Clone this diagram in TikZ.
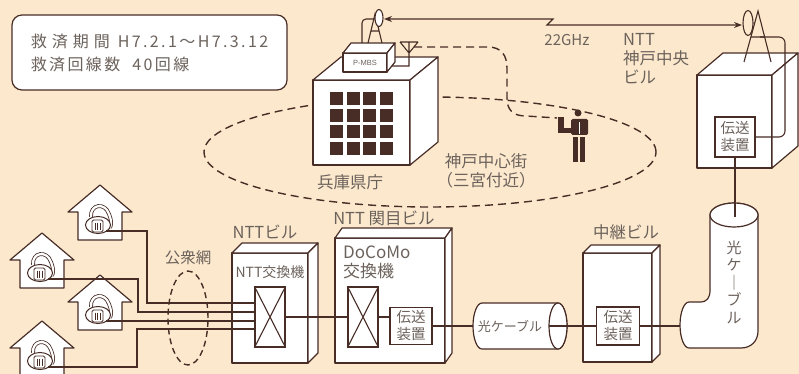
\documentclass[tikz,border=0pt]{standalone}
\usepackage{fontspec}
\setmainfont{Noto Sans CJK JP}
\newfontfamily\wideset[LetterSpace=15]{Noto Sans CJK JP}
\newfontfamily\tagfont{Liberation Sans}
\usetikzlibrary{arrows.meta}
\definecolor{paper}{RGB}{252,233,205}
\definecolor{ink}{RGB}{72,44,38}
\definecolor{txt}{RGB}{108,98,92}
\tikzset{
  face/.style={draw=ink,line width=1.2pt,fill=white,line join=round},
  wire/.style={draw=ink,line width=1.1pt},
  dashline/.style={draw=ink,line width=1.4pt,dash pattern=on 8pt off 5pt},
  lbl/.style={text=txt,inner sep=0pt,font=\fontsize{16.5}{19}\selectfont},
  swbox/.style={draw=ink,line width=1.1pt,fill=white,minimum width=30pt,minimum height=60pt,inner sep=0pt},
  txbox/.style={draw=ink,line width=1.1pt,fill=white,minimum width=42pt,minimum height=37pt,inner sep=0pt,align=center,text=txt,font=\fontsize{14.5}{17}\selectfont},
  infobox/.style={draw=ink,line width=1.2pt,fill=white,rounded corners=10pt,minimum width=275pt,minimum height=75pt,align=left,text=txt,font=\wideset\fontsize{16}{23}\selectfont},
  % oblique box: front face at the origin, width, height, depth x, depth y
  pics/cuboid/.style n args={4}{code={
    \path[face] (0,0) rectangle (#1,#2);
    \path[face] (0,0) -- (#3,-#4) -- ({#1+#3},-#4) -- (#1,0) -- cycle;
    \path[face] (#1,0) -- ({#1+#3},-#4) -- ({#1+#3},{#2-#4}) -- (#1,#2) -- cycle;
  }},
  % house with a telephone, origin at the roof apex
  pics/house/.style={code={
    \path[face] (-32,27) -- (0,0) -- (32,27) -- (22,27) -- (22,55) -- (-22,55) -- (-22,27) -- cycle;
    \draw[ink,line width=0.8pt,double=white,double distance=2.2pt] (-9,32) .. controls (-10,19) and (5,17) .. (9,29) .. controls (11,34) and (12,38) .. (10,43);
    \path[draw=ink,line width=1pt,fill=white] (-2,40) ellipse[x radius=12.5pt,y radius=8.5pt];
    \path[draw=ink,line width=0.9pt,rounded corners=1.5pt] (-8,35) rectangle (3,47);
    \draw[ink,line width=0.8pt] (-5,37.5) -- (-5,44.5) (-2.5,37.5) -- (-2.5,44.5) (0,37.5) -- (0,44.5);
    \coordinate (-jack) at (6,46);
  }},
}
\begin{document}
\begin{tikzpicture}[x=1pt,y=-1pt]
\fill[paper] (0,0) rectangle (799,374);
\useasboundingbox (0,0) rectangle (799,374);

% summary box
\node[infobox] (info) at (149.5,52.5) {救\hspace{5pt}済\hspace{5pt}期\hspace{5pt}間\hspace{8pt}H7.2.1～H7.3.12\\救済回線数\hspace{12pt}40回線};

% downtown service area and radio path to the handset
\draw[dashline] (430,152) ellipse[x radius=226pt,y radius=55pt];
\coordinate (caller) at (557,118);
\coordinate (yant) at (414,47);
\draw[dashline] (yant) -- (488,47) .. controls (501,47) and (507,55) .. (507,68) -- (507,98) .. controls (507,110) and (513,116) .. (526,116) -- (caller);

% person with a portable phone
\fill[ink] (578,113) circle[radius=3.5pt];
\fill[ink,rounded corners=1.5pt] (571,119) rectangle (588,135);
\fill[ink] (558,117) rectangle (564,133);
\fill[ink] (558,128) rectangle (572,133);
\fill[ink] (573,137) rectangle (578,162);
\fill[ink] (580,137) rectangle (585,162);
\draw[white,line width=1pt] (579.5,122) -- (579.5,134);

% prefectural office
\pic at (313,80) {cuboid={97}{85}{28}{23}};
\foreach \i in {0,...,3} \foreach \j in {0,...,3}
  \fill[ink] ({330+16.7*\i},{92+16.7*\j}) rectangle ++(13,13);
\pic at (343,53) {cuboid={44}{19}{8}{10}};
\node[text=txt,inner sep=0pt,font=\tagfont\fontsize{7.5}{8}\selectfont] (pmbs) at (365,62.5) {P-MBS};
\draw[wire] (400,42) -- (418,42) (400,42) -- (409,53) -- (418,42) (409,42) -- (409,66) -- (392,66);
\draw[wire,rounded corners=4pt] (375,19) -- (362,19) -- (362,43);
\draw[wire] (368,43) -- (375,14) -- (382,43) (371,31) -- (379,31);
\draw[wire,fill=white] (379,18) ellipse[x radius=4pt,y radius=8.5pt];
\coordinate (dishA) at (384,19);
\node[lbl] (lblpref) at (350,182) {兵庫県庁};
\node[lbl,align=center] (lblcity) at (486,171) {神戸中心街\\（三宮付近）};

% NTT Kobe central building
\pic at (697,75) {cuboid={75}{93}{26}{22}};
\node[txbox,minimum width=40pt,minimum height=40pt] (tx3) at (735,137) {伝送\\装置};
\draw[wire] (748,23) ellipse[x radius=5pt,y radius=12.5pt];
\draw[wire] (744,62) -- (758,11) -- (771,62) (751,37) -- (765,37);
\coordinate (dishB) at (742,25);
\coordinate (feedB) at (760,37);
\draw[wire,rounded corners=6pt] (feedB) -- (785,37) -- (785,137) -- (tx3.east);
\node[lbl,align=left,anchor=north west] (lblcentral) at (623,33) {NTT\\神戸中央\\ビル};

% 22 GHz radio link
\draw[wire,{Stealth[length=8pt,width=6pt]}-{Stealth[length=8pt,width=6pt]}] (dishA) -- (553,19) -- (547,25) -- (dishB);
\node[lbl,font=\fontsize{15}{17}\selectfont] (lblghz) at (567,40) {22GHz};

% vertical optical cable
\path[face] (710,215) -- (710,290) .. controls (710,298) and (707,302) .. (700,302) -- (689,302)
  arc[start angle=90,end angle=270,x radius=9pt,y radius=23pt] -- (741,348)
  .. controls (751,348) and (758,341) .. (758,331) -- (758,215)
  arc[start angle=0,end angle=180,x radius=24pt,y radius=12pt] -- cycle;
\path[face] (734,215) ellipse[x radius=24pt,y radius=12pt];
\coordinate (cab2top) at (735,217);
\coordinate (cab2in) at (680,326);
\draw[wire] (tx3.south) -- (cab2top);
\node[lbl,align=center,font=\fontsize{15}{17.5}\selectfont] (lblvcab) at (734,282) {光\\ケ\\｜\\ブ\\ル};

% subscriber houses
\pic (h1) at (100,185) {house};
\pic (h2) at (42,233) {house};
\pic (h3) at (100,275) {house};
\pic (h4) at (42,321) {house};
\draw[dashline,dash pattern=on 6pt off 4pt] (188,318) ellipse[x radius=20pt,y radius=47pt];
\node[lbl,font=\fontsize{15.5}{17}\selectfont] (lblpub) at (188,258) {公衆網};

% exchange and relay buildings
\pic at (232,253) {cuboid={76}{110}{10}{10}};
\pic at (335,238) {cuboid={110}{125}{7}{10}};
\pic at (583,253) {cuboid={69}{109}{8}{8}};
\node[lbl] (lblntt) at (265,232) {NTTビル};
\node[lbl] (lblseki) at (384,218) {NTT 関目ビル};
\node[lbl] (lblrelay) at (626,232) {中継ビル};
\node[lbl,font=\fontsize{14}{16}\selectfont] (lblsw1) at (270,272) {NTT交換機};
\node[lbl,align=left,anchor=north west,font=\fontsize{17}{19}\selectfont] (lblsw2) at (343,246) {DoCoMo\\交換機};

% horizontal optical cable
\path[face] (482,303) -- (558,303) arc[start angle=90,end angle=-90,x radius=9pt,y radius=23pt]
  -- (482,349) arc[start angle=270,end angle=90,x radius=9pt,y radius=23pt] -- cycle;
\path[face] (558,326) ellipse[x radius=9pt,y radius=23pt];
\coordinate (cab1in) at (473,326);
\coordinate (cab1out) at (549,326);
\node[lbl,font=\fontsize{13}{15}\selectfont] (lblhcab) at (510,326) {光ケーブル};

% equipment
\node[swbox] (sw1) at (270,317) {};
\node[swbox] (sw2) at (363,317) {};
\draw[wire] (sw1.north west) -- (sw1.south east) (sw1.north east) -- (sw1.south west);
\draw[wire] (sw2.north west) -- (sw2.south east) (sw2.north east) -- (sw2.south west);
\node[txbox] (tx1) at (411,326) {伝送\\装置};
\node[txbox,minimum width=43pt,minimum height=38pt] (tx2) at (618,326) {伝送\\装置};

% lines
\draw[wire] (h1-jack) -- ++(41,0) |- ([yshift=14pt]sw1.west);
\draw[wire] (h2-jack) -- ++(90,0) |- ([yshift=5pt]sw1.west);
\draw[wire] (h3-jack) -- (h3-jack -| sw1.west);
\draw[wire] (h4-jack) -- ++(89,0) |- ([yshift=-12pt]sw1.west);
\draw[wire] (sw1.east) -- (sw2.west);
\draw[wire] (sw2.east) -- (sw2.east -| tx1.west);
\draw[wire] (tx1.east) -- (cab1in);
\draw[wire] (cab1out) -- (tx2.west);
\draw[wire] (tx2.east) -- (cab2in);
\end{tikzpicture}
\end{document}
